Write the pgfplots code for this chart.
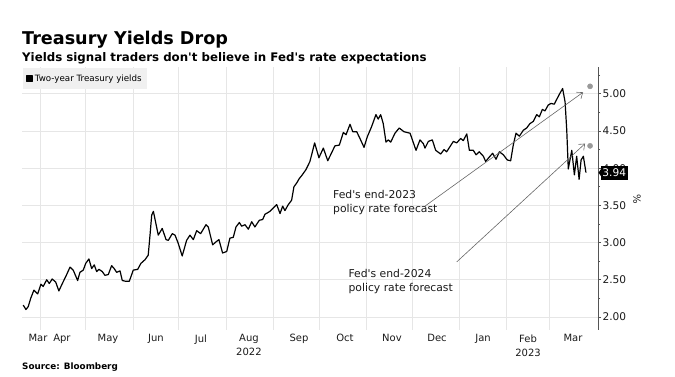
\documentclass[border=0pt]{standalone}
\usepackage{pgfplots}
\pgfplotsset{compat=1.18}
\usepackage{fontspec}
\setmainfont{DejaVu Sans}[Ligatures=TeXOff]
\usetikzlibrary{arrows.meta,calc}

\definecolor{gridc}{HTML}{E6E6E6}
\definecolor{axc}{HTML}{555555}
\definecolor{arrc}{HTML}{666666}
\definecolor{dotc}{HTML}{999999}
\definecolor{legc}{HTML}{F0F0F0}
\definecolor{txtc}{HTML}{1A1A1A}

\begin{document}
\begin{tikzpicture}[x=1pt,y=1pt]
\useasboundingbox (0,0) rectangle (675,377);
\node[anchor=base west, font=\bfseries\fontsize{17.6}{20}\selectfont, inner sep=0] at (22,332) {Treasury Yields Drop};
\node[anchor=base west, font=\bfseries\fontsize{11.8}{14}\selectfont, inner sep=0] at (22,315.5) {Yields signal traders don't believe in Fed's rate expectations};
\node[anchor=base west, font=\bfseries\fontsize{8.8}{10}\selectfont, inner sep=0] at (22,7) {Source: Bloomberg};

\begin{axis}[
  at={(22pt,47pt)}, anchor=south west, scale only axis, width=576pt, height=263pt,
  xmin=19.2, xmax=397.1, ymin=1.825, ymax=5.36,
  axis line style={draw=none},
  ytick pos=right, yticklabel pos=right, xtick pos=bottom,
  xtick={29.7,45.4,75.6,107.1,136.6,168.1,200.9,231.1,261.9,291.5,321.7,351.2,380.7},
  xticklabels={Mar,Apr,May,Jun,Jul,{Aug\\2022},Sep,Oct,Nov,Dec,Jan,{Feb\\2023},Mar},
  minor xtick={31,61,92,122,153,184,214,245,275,306,337,365},
  xmajorgrids=false, xminorgrids=true,
  x tick style={draw=none},
  xticklabel style={align=center, font=\fontsize{10}{14}\selectfont, text=txtc, yshift=2pt},
  ytick={2,2.5,3,3.5,4,4.5,5},
  minor ytick={2.25,2.75,3.25,3.75,4.25,4.75,5.25},
  ymajorgrids=true,
  y tick style={draw=axc, line width=0.6pt},
  major tick length=3pt, minor tick length=2pt, tick align=outside,
  yticklabel style={font=\fontsize{10.6}{12}\selectfont, text=txtc, xshift=-2pt,
    /pgf/number format/.cd, fixed, fixed zerofill, precision=2, assume math mode=true},
  grid style={draw=gridc, line width=0.6pt},
  minor grid style={draw=gridc, line width=0.6pt},
  legend style={at={(0,1)}, anchor=north west, xshift=1pt, yshift=-1pt, fill=legc, draw=none,
    font=\fontsize{8.7}{10}\selectfont, inner xsep=3pt, inner ysep=4.5pt},
  legend cell align=left,
]
\addplot[black, line width=1.2pt, line join=round,
  legend image code/.code={\fill[black] (0pt,-2.8pt) rectangle (5.6pt,2.8pt);}]
coordinates {
(20.0,2.16) (21.8,2.10) (23.3,2.14) (24.9,2.25) (27.0,2.36) (29.5,2.31) (31.6,2.44) (33.1,2.41)
(35.4,2.50) (37.1,2.45) (39.0,2.51) (41.3,2.47) (43.4,2.35) (45.2,2.43) (48.5,2.57) (50.7,2.67)
(52.8,2.63) (55.7,2.49) (57.2,2.60) (59.4,2.63) (61.0,2.72) (63.1,2.78) (64.9,2.65) (66.6,2.70)
(68.2,2.61) (69.7,2.64) (71.9,2.61) (73.6,2.56) (75.8,2.57) (78.0,2.69) (79.7,2.65) (81.3,2.60)
(83.5,2.62) (85.0,2.49) (87.2,2.48) (89.6,2.48) (92.2,2.63) (95.1,2.64) (97.2,2.72) (99.9,2.77)
(102.0,2.83) (103.1,3.08) (104.3,3.37) (105.4,3.42) (107.5,3.21) (108.6,3.10) (111.2,3.19) (113.7,3.04)
(115.2,3.03) (117.8,3.12) (119.6,3.10) (121.7,2.99) (124.3,2.82) (127.2,3.03) (129.4,3.10) (131.6,3.04)
(133.8,3.16) (136.4,3.12) (139.9,3.24) (141.4,3.21) (144.3,2.97) (146.5,3.01) (148.4,3.04) (150.8,2.86)
(153.5,2.88) (155.6,3.06) (157.8,3.07) (159.6,3.21) (161.8,3.27) (163.3,3.22) (165.5,3.24) (167.7,3.18)
(169.9,3.28) (172.0,3.21) (174.9,3.30) (177.1,3.31) (178.6,3.38) (181.9,3.42) (186.3,3.51) (188.5,3.39)
(190.2,3.49) (191.7,3.43) (193.9,3.51) (196.1,3.57) (197.6,3.75) (199.4,3.80) (201.1,3.86) (202.7,3.90)
(205.5,3.98) (208.1,4.09) (211.2,4.34) (214.0,4.14) (216.9,4.27) (219.8,4.10) (222.4,4.21) (224.5,4.30)
(227.4,4.31) (230.0,4.48) (231.8,4.45) (234.4,4.59) (236.2,4.49) (238.8,4.49) (240.9,4.40) (243.6,4.28)
(245.7,4.42) (248.6,4.56) (251.4,4.72) (252.9,4.66) (254.5,4.72) (256.2,4.60) (258.0,4.35) (259.5,4.38)
(261.1,4.35) (263.9,4.47) (266.7,4.54) (269.8,4.49) (273.8,4.47) (277.7,4.24) (280.3,4.38) (282.5,4.33)
(283.6,4.27) (285.8,4.36) (288.4,4.38) (290.6,4.24) (293.9,4.19) (296.1,4.25) (297.8,4.22) (300.0,4.29)
(302.2,4.36) (304.4,4.34) (307.0,4.40) (308.7,4.37) (311.0,4.46) (312.7,4.24) (315.3,4.24) (317.1,4.18)
(319.2,4.22) (321.9,4.16) (323.4,4.09) (326.2,4.16) (328.0,4.20) (330.2,4.12) (332.4,4.22) (335.0,4.18)
(337.6,4.11) (339.8,4.10) (341.5,4.31) (343.3,4.47) (345.5,4.43) (348.1,4.51) (350.3,4.54) (352.5,4.60)
(354.7,4.63) (356.9,4.72) (358.6,4.69) (360.6,4.79) (362.3,4.77) (364.5,4.85) (366.3,4.87) (368.4,4.86)
(370.4,4.94) (372.2,5.01) (373.9,5.07) (375.5,4.89) (376.6,4.51) (377.6,3.99) (379.9,4.24) (381.6,3.91)
(383.1,4.16) (384.7,3.85) (386.0,4.11) (387.5,4.16) (389.2,3.94)
};
\addlegendentry{Two-year Treasury yields}
\addplot[only marks, mark=*, mark size=2.6pt, dotc, forget plot] coordinates {(391.9,5.10) (391.9,4.30)};
\draw[arrc, line width=0.6pt, -{Straight Barb[length=5pt,width=8pt]}] (axis cs:283.6,3.49) -- (axis cs:387.3,5.02);
\draw[arrc, line width=0.6pt, -{Straight Barb[length=5pt,width=8pt]}] (axis cs:304.4,2.74) -- (axis cs:388.6,4.33);
\node[anchor=west, align=left, inner sep=0, font=\fontsize{10.8}{14}\selectfont, text=txtc] at (axis cs:223.2,3.532) {Fed's end-2023\\policy rate forecast};
\node[anchor=west, align=left, inner sep=0, font=\fontsize{10.8}{14}\selectfont, text=txtc] at (axis cs:233.3,2.475) {Fed's end-2024\\policy rate forecast};
\coordinate (lv) at (axis cs:397.1,3.94);
\coordinate (ab) at (rel axis cs:1,0);
\coordinate (at) at (rel axis cs:1,1);
\end{axis}
\draw[axc, line width=0.8pt] (ab) -- (at);
\fill[black] ($(lv)+(0.5,0)$) -- ($(lv)+(3,3.5)$) -- ($(lv)+(3,-3.5)$) -- cycle;
\node[anchor=west, fill=black, text=white, inner xsep=1.5pt, inner ysep=0pt, minimum height=14pt,
  font=\fontsize{10.6}{12}\selectfont] at ($(lv)+(2.7,0)$) {3.94};
\node[rotate=-90, font=\fontsize{10}{12}\selectfont, text=txtc] at (637,178) {\%};
\end{tikzpicture}
\end{document}
